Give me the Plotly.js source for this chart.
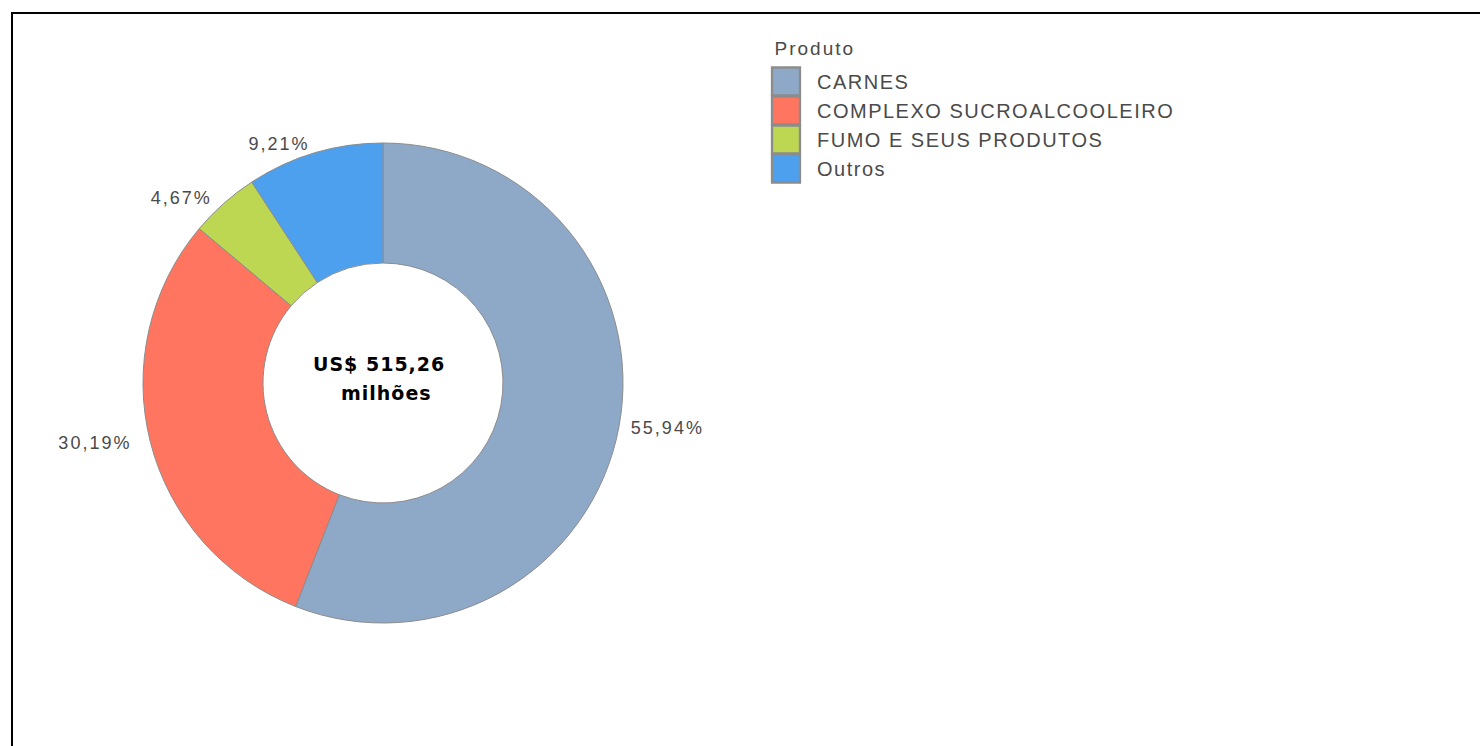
<!DOCTYPE html>
<html>
<head>
<meta charset="utf-8">
<script src="https://cdn.plot.ly/plotly-3.0.1.min.js"></script>
<style>
  html, body { margin: 0; padding: 0; background: #fff; }
  #chart { width: 1480px; height: 746px; }
  .legendtext { letter-spacing: 1.5px; }
  .slicetext { letter-spacing: 2px; }
  .annotation-text { letter-spacing: 1px; }
  .annotation[data-index="2"] .annotation-text { letter-spacing: 2px; }
  .legendpie { transform: translate(19px, 0px) scale(2.33); }
</style>
</head>
<body>
<div id="chart"></div>
<script>
const categories = ['CARNES', 'COMPLEXO SUCROALCOOLEIRO', 'FUMO E SEUS PRODUTOS', 'Outros'];
const shares = [55.94, 30.19, 4.67, 9.21];
const sliceColors = ['#8EA9C8', '#FF7560', '#BDD752', '#4DA0EE'];
const legendTitle = 'Produto';
const totalLine1 = 'US$ 515,26';
const totalLine2 = 'milhões';

const W = 1480, H = 746;
const cx = 383, cy = 383, R = 240;
const NB = '\u00A0';
const labelTemplates = [NB + '%{value:.2f}%', '%{value:.2f}%' + NB + NB, '%{value:.2f}%' + NB, '%{value:.2f}%'];

const trace = {
  type: 'pie',
  labels: categories,
  values: shares,
  hole: 0.5,
  sort: false,
  direction: 'clockwise',
  rotation: 0,
  marker: { colors: sliceColors, line: { color: '#8c8c8c', width: 1 } },
  textposition: 'outside',
  texttemplate: labelTemplates,
  textfont: { family: 'Liberation Sans, Arial, sans-serif', size: 18, color: '#4a4a4a' },
  hoverinfo: 'label+percent',
  domain: {
    x: [(cx - R) / W, (cx + R) / W],
    y: [(H - cy - R) / H, (H - cy + R) / H]
  },
  showlegend: true
};

const layout = {
  width: W, height: H,
  margin: { l: 0, r: 0, t: 0, b: 0 },
  paper_bgcolor: '#ffffff',
  separators: ',.',
  showlegend: true,
  legend: {
    x: 767 / W, y: 1 - 62 / H, xanchor: 'left', yanchor: 'top',
    itemwidth: 40,
    font: { family: 'Liberation Sans, Arial, sans-serif', size: 20, color: '#4a4a4a' },
    bgcolor: 'rgba(0,0,0,0)',
    itemclick: false, itemdoubleclick: false
  },
  annotations: [
    { xref: 'paper', yref: 'paper', x: 379 / W, y: 1 - 364 / H, xanchor: 'center', yanchor: 'middle',
      text: totalLine1, showarrow: false,
      font: { family: 'DejaVu Sans, sans-serif', size: 19, color: '#000', weight: 'bold' } },
    { xref: 'paper', yref: 'paper', x: 386 / W, y: 1 - 393 / H, xanchor: 'center', yanchor: 'middle',
      text: totalLine2, showarrow: false,
      font: { family: 'DejaVu Sans, sans-serif', size: 19, color: '#000', weight: 'bold' } },
    { xref: 'paper', yref: 'paper', x: 776 / W, y: 1 - 48 / H, xanchor: 'left', yanchor: 'middle',
      text: legendTitle, showarrow: false,
      font: { family: 'Liberation Sans, Arial, sans-serif', size: 19, color: '#4a4a4a' } }
  ],
  shapes: [
    { type: 'rect', xref: 'paper', yref: 'paper', x0: 12 / W, x1: 1.05, y0: -0.05, y1: 1 - 13 / H,
      line: { color: '#000', width: 2 }, fillcolor: 'rgba(0,0,0,0)', layer: 'above' }
  ]
};

Plotly.newPlot('chart', [trace], layout, { displayModeBar: false });
</script>
</body>
</html>
